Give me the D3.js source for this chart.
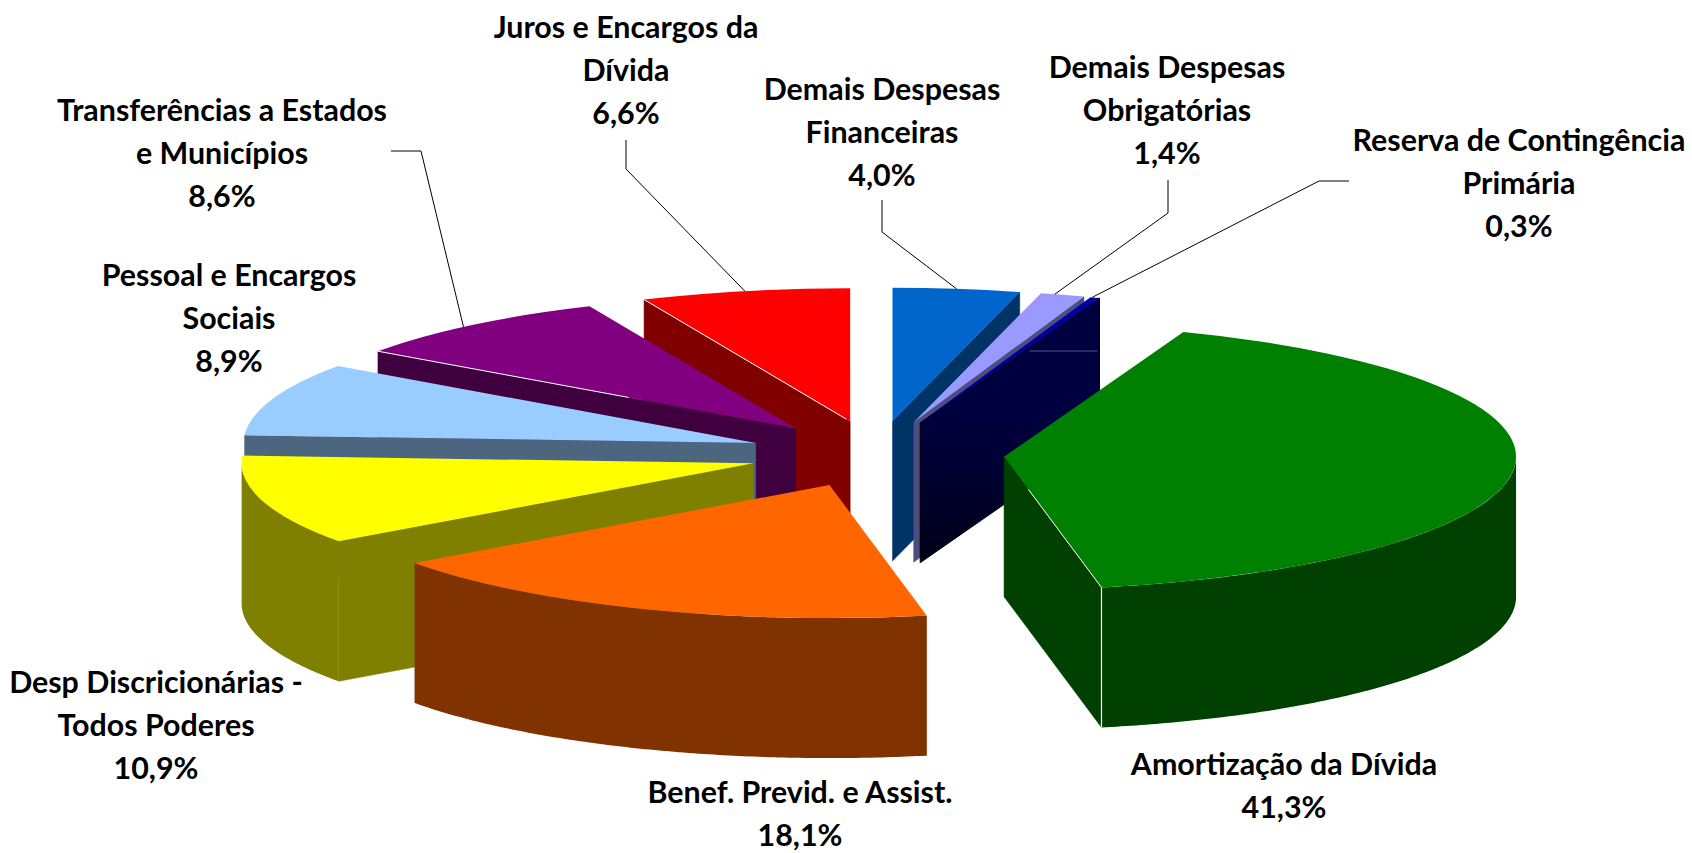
<!DOCTYPE html>
<html>
<head>
<meta charset="utf-8">
<script src="https://cdn.jsdelivr.net/npm/d3@7"></script>
<style>
  body { margin: 0; background: #fff; }
  text { font-family: Lato, "Open Sans", sans-serif; font-weight: 700; fill: #000; }
</style>
</head>
<body>
<div id="chart"></div>
<script>
const categories = [
  ["Demais Despesas", "Financeiras"],
  ["Demais Despesas", "Obrigatórias"],
  ["Reserva de Contingência", "Primária"],
  ["Amortização da Dívida"],
  ["Benef. Previd. e Assist."],
  ["Desp Discricionárias -", "Todos Poderes"],
  ["Pessoal e Encargos", "Sociais"],
  ["Transferências a Estados", "e Municípios"],
  ["Juros e Encargos da", "Dívida"]
];
const shares = [4.0, 1.4, 0.3, 41.3, 18.1, 10.9, 8.9, 8.6, 6.6];
const topColors = ["#0066cc", "#9999ff", "#0000a0", "#008000", "#ff6600", "#ffff00", "#99ccff", "#800080", "#ff0000"];
const sideColors = ["#003366", "#4d4d80", "#000040", "#004000", "#803300", "#808000", "#4d6680", "#400040", "#800000"];

// label centre and leader elbows, in page pixels
const labelPos = [[882, 89], [1167, 67], [1519, 140], [1284, 764], [800, 792], [156, 682], [229, 275], [222, 110], [626, 27]];
const leaders = {
  0: { elbow: [[882, 200], [882, 232]], at: 0.5 },
  1: { elbow: [[1168, 180], [1168, 213]], at: 0.32 },
  2: { elbow: [[1349, 181], [1319, 181]], at: 0.2 },
  7: { elbow: [[391, 151], [421, 151]], at: 0.46 },
  8: { elbow: [[626, 140], [626, 169]], at: 0.5 }
};

const width = 1692, height = 853;
const cx = 876.5, cy = 454;
const radius = 512, explode = 128, tilt = 0.26, depth = 140;
const fontSize = 30.4, lineGap = 43;

const svg = d3.select("#chart").append("svg")
  .attr("width", width)
  .attr("height", height)
  .style("display", "block");

const fmt = d3.formatLocale({ decimal: ",", thousands: ".", grouping: [3], currency: ["", "%"] }).format(".1f");

const slices = d3.pie().sort(null).startAngle(0).endAngle(2 * Math.PI)(shares);
const arc = d3.arc().innerRadius(0).outerRadius(radius);
const wall = d3.area().x(d => d[0]).y0(d => d[1]).y1(d => d[1] + depth);

const ox = (a, r) => Math.sin(a) * r;
const oy = (a, r) => -Math.cos(a) * r * tilt;

slices.forEach(s => {
  s.mid = (s.startAngle + s.endAngle) / 2;
  s.ax = cx + ox(s.mid, explode);
  s.ay = cy + oy(s.mid, explode);
  s.rim = a => [s.ax + ox(a, radius), s.ay + oy(a, radius)];
});

const defs = svg.append("defs");
const navy = defs.append("linearGradient").attr("id", "navyFade")
  .attr("x1", 0).attr("y1", 0).attr("x2", 0).attr("y2", 1);
navy.append("stop").attr("offset", "0.45").attr("stop-color", "#000040");
navy.append("stop").attr("offset", "1").attr("stop-color", "#000018");

// back to front, the way the slices overlap
const drawOrder = [8, 7, 6, 5, 0, 1, 2, 3, 4];
const pies = svg.append("g");

drawOrder.forEach(i => {
  const s = slices[i];
  const g = pies.append("g");
  const fill = i === 2 ? "url(#navyFade)" : sideColors[i];

  // cut faces that turn toward the viewer
  [[s.startAngle, s.startAngle - Math.PI / 2], [s.endAngle, s.endAngle + Math.PI / 2]].forEach(([a, n]) => {
    if (-Math.cos(n) > 0.01) {
      g.append("path")
        .attr("d", wall([[s.ax, s.ay], s.rim(a)]))
        .attr("fill", fill)
        .attr("stroke", i === 2 ? "#000" : fill)
        .attr("stroke-width", i === 2 ? 1 : 0.5);
    }
  });

  // outer rim, front half only
  const a0 = Math.max(s.startAngle, Math.PI / 2), a1 = Math.min(s.endAngle, 3 * Math.PI / 2);
  if (a1 > a0) {
    g.append("path")
      .attr("d", wall(d3.range(a0, a1, 0.01).concat(a1).map(s.rim)))
      .attr("fill", fill);
  }

  // faint seam across the navy face
  if (i === 2) {
    const p = s.rim(s.endAngle);
    g.append("line")
      .attr("x1", p[0] - 70).attr("y1", p[1] + 53)
      .attr("x2", p[0] - 2).attr("y2", p[1] + 53)
      .attr("stroke", "#55557f").attr("stroke-width", 1);
  }

  g.append("path")
    .attr("d", arc(s))
    .attr("transform", `translate(${s.ax},${s.ay}) scale(1,${tilt})`)
    .attr("fill", topColors[i]);
});

// thin white highlights the original leaves on some edges
const edge = (i, a, from, to) => {
  const s = slices[i];
  const p = s.rim(a);
  pies.append("line")
    .attr("x1", s.ax + (p[0] - s.ax) * from).attr("y1", s.ay + (p[1] - s.ay) * from)
    .attr("x2", s.ax + (p[0] - s.ax) * to).attr("y2", s.ay + (p[1] - s.ay) * to)
    .attr("stroke", "#fff").attr("stroke-width", 1);
};
edge(3, slices[3].endAngle, 0.25, 1);
edge(7, slices[7].startAngle, 0.4, 1);
edge(8, slices[8].startAngle, 0.02, 1);
const amortEnd = slices[3].rim(slices[3].endAngle);
pies.append("line")
  .attr("x1", amortEnd[0]).attr("y1", amortEnd[1])
  .attr("x2", amortEnd[0]).attr("y2", amortEnd[1] + depth)
  .attr("stroke", "#fff").attr("stroke-width", 1.2);

// leader lines end on the rim of their slice
const leaderLine = d3.line();
Object.keys(leaders).forEach(k => {
  const s = slices[k];
  const a = s.startAngle + (s.endAngle - s.startAngle) * leaders[k].at;
  svg.append("path")
    .attr("d", leaderLine(leaders[k].elbow.concat([s.rim(a)])))
    .attr("fill", "none")
    .attr("stroke", "#000")
    .attr("stroke-width", 1);
});

// labels, the value is the last line
categories.forEach((lines, i) => {
  const t = svg.append("text")
    .attr("text-anchor", "middle")
    .attr("font-size", fontSize);
  lines.concat([fmt(shares[i]) + "%"]).forEach((l, j) => {
    t.append("tspan")
      .attr("x", labelPos[i][0])
      .attr("y", labelPos[i][1] + j * lineGap + fontSize * 0.36)
      .text(l);
  });
});
</script>
</body>
</html>
